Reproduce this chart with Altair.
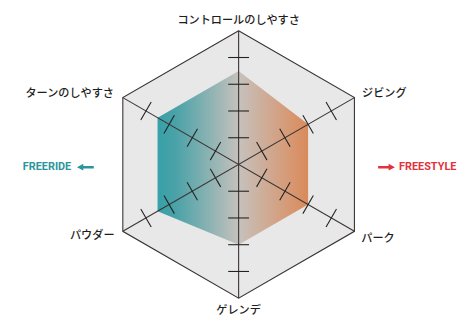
import math
import altair as alt
import pandas as pd

# ---- data ----
categories = ["コントロールのしやすさ", "ジビング", "パーク", "ゲレンデ", "パウダー", "ターンのしやすさ"]
angles_deg = [90, 30, -30, -90, -150, 150]
values = [3.5, 3, 3, 3, 3.5, 3.5]
levels = [1, 2, 3, 4]
max_level = 5
side_labels = ["FREERIDE", "FREESTYLE"]
side_colors = ["#2b959c", "#e3323c"]

# ---- geometry helpers ----
def pt(r, a):
    t = math.radians(a)
    return r * math.cos(t), r * math.sin(t)

upper = [5, 0, 1]   # left -> right along top chain
lower = [4, 3, 2]   # left -> right along bottom chain

def chain_df(radii):
    rows = []
    for u, l in zip(upper, lower):
        xu, yu = pt(radii[u], angles_deg[u])
        xl, yl = pt(radii[l], angles_deg[l])
        rows.append({"x": xu, "y": yu, "y2": yl})
    return pd.DataFrame(rows)

outer_area = chain_df([max_level] * 6)
poly_area = chain_df(values)

outline = pd.DataFrame(
    [{"x": pt(max_level, angles_deg[i % 6])[0], "y": pt(max_level, angles_deg[i % 6])[1], "o": i}
     for i in range(7)]
)

axes_rows = []
for i in range(3):
    x1, y1 = pt(max_level, angles_deg[i])
    x2, y2 = pt(max_level, angles_deg[i + 3])
    axes_rows.append({"x": x1, "y": y1, "x2": x2, "y2": y2})
axes_df = pd.DataFrame(axes_rows)

half_tick = 0.39
tick_rows = []
for a in angles_deg:
    t = math.radians(a)
    nx, ny = -math.sin(t), math.cos(t)
    for lv in levels:
        cx, cy = pt(lv, a)
        tick_rows.append({"x": cx - half_tick * nx, "y": cy - half_tick * ny,
                          "x2": cx + half_tick * nx, "y2": cy + half_tick * ny})
ticks_df = pd.DataFrame(tick_rows)

# ---- scales ----
W, H = 456, 310
unit = 27.1
cx_px, cy_px = 233.7, 156.5
xs = alt.Scale(domain=[-cx_px / unit, (W - cx_px) / unit], nice=False, zero=False)
ys = alt.Scale(domain=[-(H - cy_px) / unit, cy_px / unit], nice=False, zero=False)
X = alt.X("x:Q", scale=xs, axis=None)
Y = alt.Y("y:Q", scale=ys, axis=None)

line_color = "#3a3333"

hex_fill = alt.Chart(outer_area).mark_area(fill="#e8e8e8", opacity=1).encode(x=X, y=Y, y2="y2:Q")
hex_line = alt.Chart(outline).mark_line(color=line_color, strokeWidth=1.1).encode(x=X, y=Y, order="o:Q")

grad = alt.Gradient(
    gradient="linear",
    stops=[
        alt.GradientStop(color="#37a0a8", offset=0),
        alt.GradientStop(color="#4aa2a8", offset=0.12),
        alt.GradientStop(color="#c6c1bc", offset=0.54),
        alt.GradientStop(color="#d7966f", offset=0.9),
        alt.GradientStop(color="#d98a5a", offset=1),
    ],
    x1=0, x2=1, y1=0, y2=0,
)
poly = alt.Chart(poly_area).mark_area(fill=grad, opacity=1).encode(x=X, y=Y, y2="y2:Q")

axes = alt.Chart(axes_df).mark_rule(color=line_color, strokeWidth=1.1).encode(
    x=X, y=Y, x2="x2:Q", y2="y2:Q")
ticks = alt.Chart(ticks_df).mark_rule(color="#222222", strokeWidth=1.1).encode(
    x=X, y=Y, x2="x2:Q", y2="y2:Q")

# label placement per vertex: (align, dx, dy)
label_style = [("center", 0, -10), ("left", 7.7, -3.8), ("left", 7, 7.8),
               ("center", 0, 12.7), ("right", -8.4, 4.5), ("right", -9, -3.8)]
label_layers = []
for i, name in enumerate(categories):
    vx, vy = pt(max_level, angles_deg[i])
    al, dx, dy = label_style[i]
    df = pd.DataFrame([{"x": vx, "y": vy, "t": name}])
    label_layers.append(
        alt.Chart(df).mark_text(align=al, baseline="middle", dx=dx, dy=dy, fontSize=11.3,
                                font="Noto Sans CJK JP", fontWeight=500, color="#1e1e1e")
        .encode(x=X, y=Y, text="t:N")
    )

# side annotations
side_y = -0.1
left_df = pd.DataFrame([{"x": -6.26, "y": side_y, "t": side_labels[0]}])
right_df = pd.DataFrame([{"x": 6.0, "y": side_y, "t": side_labels[1]}])
left_text = alt.Chart(left_df).mark_text(align="right", baseline="middle", fontSize=11,
                                         font="Roboto", fontWeight="bold",
                                         color=side_colors[0]).encode(x=X, y=Y, text="t:N")
right_text = alt.Chart(right_df).mark_text(align="left", baseline="middle", fontSize=11,
                                           font="Roboto", fontWeight="bold",
                                           color=side_colors[1]).encode(x=X, y=Y, text="t:N")
left_arrow_path = "M-1,0L-0.25,-0.4L-0.25,-0.15L1,-0.15L1,0.15L-0.25,0.15L-0.25,0.4Z"
right_arrow_path = "M1,0L0.25,-0.4L0.25,-0.15L-1,-0.15L-1,0.15L0.25,0.15L0.25,0.4Z"
left_arrow = alt.Chart(pd.DataFrame([{"x": -5.73, "y": side_y}])).mark_point(
    shape=left_arrow_path, size=290, filled=True, opacity=1, color=side_colors[0], strokeWidth=0
).encode(x=X, y=Y)
right_arrow = alt.Chart(pd.DataFrame([{"x": 5.53, "y": side_y}])).mark_point(
    shape=right_arrow_path, size=290, filled=True, opacity=1, color=side_colors[1], strokeWidth=0
).encode(x=X, y=Y)

chart = alt.layer(
    hex_fill, poly, hex_line, axes, ticks, *label_layers,
    left_text, right_text, left_arrow, right_arrow
).properties(
    width=W, height=H, padding=0, autosize=alt.AutoSizeParams(type="none")
).configure_view(stroke=None)

chart.save("out.html", embed_options={"renderer": "svg", "actions": False})
